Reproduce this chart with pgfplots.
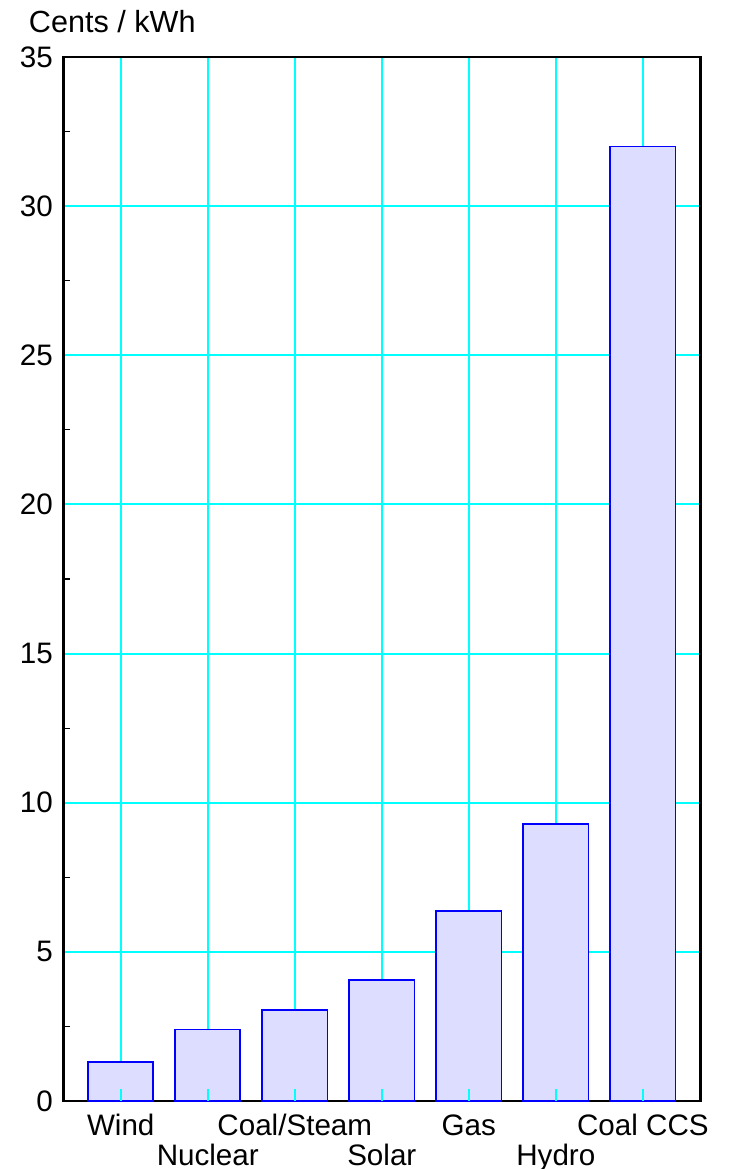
\documentclass[border=0pt]{standalone}
\usepackage{pgfplots}
\pgfplotsset{compat=1.18}
\usepackage{fontspec}
\setmainfont{Liberation Sans}
\definecolor{barfill}{HTML}{DDDDFF}
\definecolor{barline}{HTML}{0000FF}
\definecolor{gridc}{HTML}{00FFFF}
\begin{document}
\fontsize{15}{17}\selectfont
\begin{tikzpicture}
\begin{axis}[
  name=ax,
  scale only axis,
  width=318.5pt, height=522pt,
  xmin=0.34, xmax=7.66,
  ymin=0, ymax=35,
  axis line style={line width=1.3pt},
  xtick={1,2,3,4,5,6,7},
  xticklabels={Wind,\raisebox{-15pt}{Nuclear},Coal/Steam,\raisebox{-15pt}{Solar},Gas,\raisebox{-15pt}{Hydro},Coal CCS},
  xticklabel style={anchor=base, yshift=-17pt, font=\fontsize{14.8}{17}\selectfont},
  ytick={0,5,...,35},
  minor y tick num=1,
  yticklabel style={font=\fontsize{14.8}{17}\selectfont},
  /pgf/number format/assume math mode=true,
  xtick pos=bottom, ytick pos=left,
  tick align=inside,
  major tick length=0pt,
  minor tick length=3.5pt,
  every minor y tick/.append style={black, line width=0.6pt},
  grid=major,
  major grid style={gridc, line width=1pt},
  clip=false,
]
\addplot[ybar, bar width=0.75, fill=barfill, draw=barline, line width=0.9pt]
  coordinates {(1,1.32) (2,2.40) (3,3.05) (4,4.06) (5,6.37) (6,9.29) (7,32.0)};
\pgfplotsinvokeforeach{1,...,7}{
  \draw[gridc, line width=1pt] (axis cs:#1,0) -- ([yshift=6pt]axis cs:#1,0);
}
\node[anchor=base, font=\fontsize{15.3}{17}\selectfont] at ([xshift=24.5pt, yshift=12pt]rel axis cs:0,1) {Cents / kWh};
\end{axis}
\pgfresetboundingbox
\path ([xshift=-31.65pt, yshift=-34pt]ax.south west) rectangle ([xshift=14.5pt, yshift=28.5pt]ax.north east);
\end{tikzpicture}
\end{document}
